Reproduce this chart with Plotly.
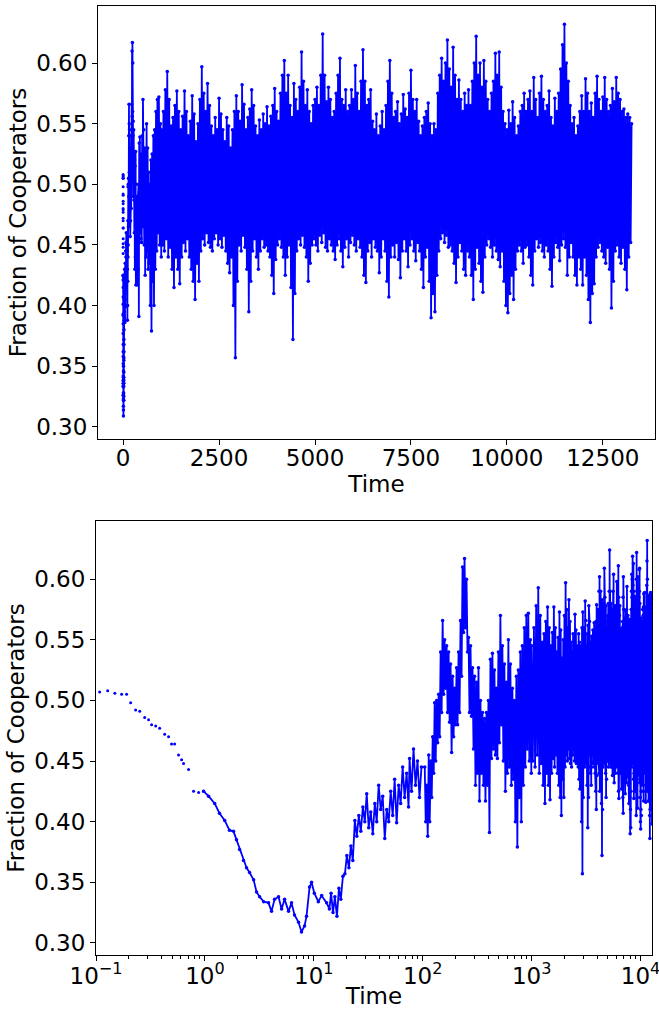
import numpy as np
import plotly.graph_objects as go

# ---------------- data ----------------
# early part: sparse dots (log-time view)
early_t = [0.108, 0.128, 0.149, 0.172, 0.191, 0.208, 0.231, 0.252, 0.280, 0.304,
           0.324, 0.353, 0.384, 0.427, 0.464, 0.494, 0.527, 0.573, 0.611, 0.637,
           0.708, 0.787, 0.875, 0.973, 1.08, 1.23, 1.36, 1.52, 1.68, 1.83,
           1.95, 2.08, 2.26, 2.41, 2.57, 2.80, 2.98, 3.18, 3.46]
early_y = [0.507, 0.508, 0.506, 0.505, 0.505, 0.498, 0.492, 0.491, 0.486, 0.484,
           0.480, 0.479, 0.477, 0.472, 0.470, 0.464, 0.464, 0.455, 0.451, 0.448,
           0.443, 0.425, 0.424, 0.425, 0.421, 0.415, 0.407, 0.401, 0.393, 0.392,
           0.385, 0.377, 0.368, 0.362, 0.358, 0.352, 0.342, 0.338, 0.334]

# trough between t ~ 4 and 14
trough_t = [3.84, 4.09, 4.36, 4.74, 5.06, 5.39, 5.86, 6.24, 6.65, 7.24,
            7.71, 8.22, 8.57, 9.14, 9.53, 10.1, 11.0, 11.8, 13.1, 13.9]
trough_y = [0.333, 0.326, 0.336, 0.338, 0.328, 0.336, 0.326, 0.333, 0.323, 0.317,
            0.309, 0.314, 0.322, 0.346, 0.350, 0.341, 0.334, 0.339, 0.333, 0.328]

# rise between t ~ 14 and 100 (alternating upper / lower edge of band)
rise_t = [14.4, 15.0, 15.6, 16.3, 17.0, 17.7, 18.5, 19.3, 20.1, 21.0,
          21.9, 22.8, 23.8, 24.8, 25.9, 27.0, 28.2, 29.4, 30.6, 31.9,
          33.3, 34.8, 36.3, 37.8, 39.4, 41.1, 42.9, 44.8, 46.7, 48.7,
          50.8, 53.0, 55.2, 57.6, 60.1, 62.7, 65.4, 68.2, 71.1, 74.1,
          75.7, 78.9, 82.3, 85.9, 89.5, 93.4, 97.3]
rise_y = [0.341, 0.325, 0.338, 0.322, 0.345, 0.336, 0.355, 0.357, 0.372, 0.362,
          0.380, 0.368, 0.401, 0.388, 0.405, 0.392, 0.412, 0.400, 0.423, 0.395,
          0.408, 0.390, 0.415, 0.400, 0.430, 0.410, 0.421, 0.386, 0.410, 0.400,
          0.425, 0.405, 0.435, 0.399, 0.430, 0.415, 0.445, 0.420, 0.440, 0.412,
          0.452, 0.425, 0.460, 0.430, 0.450, 0.420, 0.445]

# t ~ 100 .. 1000: upper and lower edges of the band
mid_t_hi = [104.3, 108.8, 113.5, 118.4, 123.4, 128.7, 134.3, 140.0, 146.0, 152.3,
            158.8, 165.7, 172.8, 180.2, 188.0, 196.0, 204.5, 213.3, 222.4, 232.0,
            242.0, 252.4, 263.2, 274.6, 286.4, 298.7, 311.6, 325.0, 338.9, 353.5,
            368.7, 384.6, 401.1, 418.4, 436.4, 455.2, 474.8, 495.2, 516.5, 538.8,
            562.0, 586.2, 611.4, 637.8, 665.2, 693.9, 723.8, 754.9, 787.4, 821.3,
            856.6, 893.5, 932.0, 972.1]
mid_hi = [0.445, 0.430, 0.455, 0.450, 0.470, 0.498, 0.500, 0.505, 0.540, 0.566,
          0.550, 0.545, 0.540, 0.530, 0.520, 0.510, 0.527, 0.540, 0.566, 0.610,
          0.617, 0.600, 0.552, 0.545, 0.527, 0.520, 0.515, 0.527, 0.500, 0.490,
          0.485, 0.490, 0.500, 0.534, 0.539, 0.525, 0.510, 0.540, 0.570, 0.545,
          0.530, 0.515, 0.550, 0.530, 0.510, 0.500, 0.520, 0.525, 0.540, 0.545,
          0.560, 0.570, 0.572, 0.550]
mid_t_lo = [106.5, 111.1, 115.9, 120.9, 126.1, 131.5, 137.1, 143.0, 149.1, 155.5,
            162.2, 169.2, 176.5, 184.1, 192.0, 200.2, 208.8, 217.8, 227.2, 236.9,
            247.1, 257.7, 268.9, 280.4, 292.5, 305.1, 318.2, 331.9, 346.1, 361.0,
            376.6, 392.8, 409.7, 427.3, 445.7, 464.9, 484.9, 505.7, 527.5, 550.2,
            573.9, 598.6, 624.4, 651.2, 679.3, 708.5, 739.0, 770.8, 804.0, 838.6,
            874.7, 912.4, 951.7, 992.7]
mid_lo = [0.400, 0.388, 0.400, 0.420, 0.440, 0.450, 0.465, 0.470, 0.490, 0.505,
          0.510, 0.490, 0.482, 0.457, 0.470, 0.480, 0.480, 0.490, 0.520, 0.556,
          0.560, 0.540, 0.490, 0.487, 0.460, 0.430, 0.440, 0.417, 0.440, 0.430,
          0.417, 0.430, 0.391, 0.452, 0.460, 0.455, 0.452, 0.465, 0.480, 0.450,
          0.425, 0.440, 0.445, 0.430, 0.435, 0.400, 0.379, 0.420, 0.400, 0.430,
          0.445, 0.460, 0.450, 0.440]

# t = 1000 .. 13250 every 50: upper edge; t = 1025 .. 13225 every 50: lower edge
late_t_hi = np.arange(1000, 13251, 50)
late_hi = [
    0.545, 0.560, 0.578, 0.593, 0.570, 0.548, 0.555, 0.565, 0.577, 0.560,
    0.545, 0.556, 0.577, 0.560, 0.540, 0.552, 0.573, 0.558, 0.535, 0.550,
    0.570, 0.597, 0.575, 0.560, 0.583, 0.565, 0.548, 0.540, 0.555, 0.545,
    0.571, 0.558, 0.545, 0.535, 0.555, 0.548, 0.530, 0.545, 0.560, 0.573,
    0.560, 0.552, 0.582, 0.566, 0.545, 0.555, 0.562, 0.578, 0.565, 0.548,
    0.540, 0.553, 0.545, 0.558, 0.550, 0.564, 0.548, 0.556, 0.565, 0.579,
    0.560, 0.552, 0.575, 0.590, 0.602, 0.575, 0.590, 0.565, 0.555, 0.583,
    0.570, 0.560, 0.580, 0.609, 0.585, 0.565, 0.578, 0.560, 0.550, 0.565,
    0.570, 0.580, 0.565, 0.590, 0.624, 0.590, 0.568, 0.580, 0.570, 0.555,
    0.560, 0.575, 0.590, 0.604, 0.570, 0.565, 0.578, 0.560, 0.565, 0.578,
    0.570, 0.598, 0.575, 0.560, 0.585, 0.611, 0.585, 0.565, 0.570, 0.578,
    0.552, 0.545, 0.558, 0.540, 0.548, 0.560, 0.545, 0.565, 0.585, 0.602,
    0.575, 0.555, 0.560, 0.568, 0.550, 0.558, 0.574, 0.562, 0.555, 0.575,
    0.594, 0.570, 0.560, 0.570, 0.552, 0.540, 0.548, 0.555, 0.560, 0.567,
    0.550, 0.540, 0.550, 0.545, 0.575, 0.590, 0.604, 0.585, 0.600, 0.619,
    0.595, 0.580, 0.613, 0.590, 0.570, 0.586, 0.570, 0.560, 0.575, 0.565,
    0.578, 0.565, 0.585, 0.600, 0.622, 0.590, 0.600, 0.580, 0.602, 0.585,
    0.570, 0.560, 0.575, 0.585, 0.608, 0.590, 0.609, 0.580, 0.560, 0.550,
    0.545, 0.561, 0.550, 0.568, 0.555, 0.540, 0.548, 0.560, 0.565, 0.575,
    0.560, 0.570, 0.577, 0.560, 0.588, 0.570, 0.555, 0.575, 0.589, 0.570,
    0.560, 0.565, 0.577, 0.555, 0.548, 0.571, 0.560, 0.575, 0.595, 0.615,
    0.632, 0.600, 0.585, 0.565, 0.550, 0.555, 0.540, 0.548, 0.560, 0.573,
    0.560, 0.587, 0.575, 0.560, 0.567, 0.555, 0.575, 0.589, 0.570, 0.560,
    0.572, 0.588, 0.570, 0.560, 0.565, 0.579, 0.568, 0.588, 0.575, 0.570,
    0.560, 0.562, 0.555, 0.558, 0.555, 0.550]
late_t_lo = np.arange(1025, 13226, 50)
late_lo = [
    0.450, 0.445, 0.455, 0.440, 0.448, 0.430, 0.415, 0.440, 0.430, 0.418,
    0.440, 0.452, 0.445, 0.455, 0.440, 0.430, 0.420, 0.405, 0.435, 0.420,
    0.445, 0.455, 0.450, 0.460, 0.452, 0.448, 0.445, 0.455, 0.460, 0.450,
    0.455, 0.448, 0.458, 0.445, 0.435, 0.427, 0.440, 0.400, 0.357, 0.420,
    0.450, 0.445, 0.458, 0.448, 0.430, 0.395, 0.420, 0.445, 0.455, 0.440,
    0.430, 0.445, 0.455, 0.448, 0.450, 0.445, 0.440, 0.425, 0.410, 0.438,
    0.450, 0.455, 0.448, 0.440, 0.425, 0.440, 0.450, 0.415, 0.372, 0.410,
    0.445, 0.455, 0.450, 0.458, 0.448, 0.440, 0.420, 0.435, 0.450, 0.455,
    0.450, 0.445, 0.458, 0.452, 0.460, 0.448, 0.445, 0.455, 0.450, 0.445,
    0.438, 0.450, 0.455, 0.445, 0.432, 0.448, 0.455, 0.440, 0.452, 0.458,
    0.450, 0.445, 0.455, 0.448, 0.440, 0.425, 0.419, 0.445, 0.452, 0.440,
    0.455, 0.448, 0.445, 0.427, 0.440, 0.455, 0.445, 0.420, 0.407, 0.440,
    0.450, 0.440, 0.452, 0.438, 0.423, 0.445, 0.455, 0.445, 0.432, 0.450,
    0.455, 0.445, 0.437, 0.452, 0.445, 0.430, 0.415, 0.440, 0.448, 0.420,
    0.390, 0.410, 0.395, 0.425, 0.445, 0.455, 0.460, 0.452, 0.458, 0.448,
    0.450, 0.445, 0.435, 0.419, 0.440, 0.452, 0.445, 0.430, 0.425, 0.445,
    0.440, 0.425, 0.405, 0.430, 0.448, 0.435, 0.420, 0.411, 0.440, 0.450,
    0.455, 0.448, 0.440, 0.450, 0.445, 0.438, 0.432, 0.445, 0.420, 0.400,
    0.394, 0.410, 0.425, 0.405, 0.430, 0.445, 0.450, 0.445, 0.435, 0.448,
    0.450, 0.440, 0.425, 0.417, 0.445, 0.455, 0.448, 0.452, 0.445, 0.440,
    0.450, 0.445, 0.430, 0.416, 0.440, 0.452, 0.448, 0.437, 0.450, 0.455,
    0.448, 0.425, 0.440, 0.452, 0.440, 0.425, 0.417, 0.440, 0.430, 0.417,
    0.440, 0.425, 0.405, 0.386, 0.410, 0.418, 0.440, 0.448, 0.452, 0.445,
    0.440, 0.435, 0.448, 0.430, 0.398, 0.420, 0.445, 0.450, 0.440, 0.435,
    0.448, 0.430, 0.413, 0.440, 0.452]

x_ticks_lin = [0, 2500, 5000, 7500, 10000, 12500]
y_ticks = [0.30, 0.35, 0.40, 0.45, 0.50, 0.55, 0.60]
y_tick_labels = ["0.30", "0.35", "0.40", "0.45", "0.50", "0.55", "0.60"]
x_ticks_log = [0.1, 1, 10, 100, 1000, 10000]
x_tick_labels_log = ["10<sup>\u22121</sup>", "10<sup>0</sup>", "10<sup>1</sup>",
                     "10<sup>2</sup>", "10<sup>3</sup>", "10<sup>4</sup>"]

# ---------------- assemble the series ----------------
mid_t, mid_y = [], []
for a, b, c, d in zip(mid_t_hi, mid_hi, mid_t_lo, mid_lo):
    mid_t += [a, c]
    mid_y += [b, d]
late_t, late_y = [], []
for i in range(len(late_t_hi)):
    late_t.append(float(late_t_hi[i])); late_y.append(late_hi[i])
    if i < len(late_t_lo):
        late_t.append(float(late_t_lo[i])); late_y.append(late_lo[i])

dot_t = [t for t in early_t if t < 1.0]
dot_y = [y for t, y in zip(early_t, early_y) if t < 1.0]
line_t = [t for t in early_t if t >= 0.97] + trough_t + rise_t + mid_t + late_t
line_y = [y for t, y in zip(early_t, early_y) if t >= 0.97] + trough_y + rise_y + mid_y + late_y

BLUE = "#0000ff"
fig = go.Figure()
for xa, ya in (("x", "y"), ("x2", "y2")):
    fig.add_trace(go.Scatter(x=dot_t, y=dot_y, mode="markers", xaxis=xa, yaxis=ya,
                             marker=dict(color=BLUE, size=3, line=dict(width=0)),
                             showlegend=False, hoverinfo="skip"))
    fig.add_trace(go.Scatter(x=line_t, y=line_y, mode="lines+markers", xaxis=xa, yaxis=ya,
                             line=dict(color=BLUE, width=1.8),
                             marker=dict(color=BLUE, size=3.5, line=dict(width=0)),
                             showlegend=False, hoverinfo="skip"))

W, H = 659, 1016
axis_common = dict(showline=True, linecolor="black", linewidth=1, mirror=True,
                   ticks="outside", ticklen=5, tickwidth=1, tickcolor="black",
                   showgrid=False, zeroline=False, automargin=False,
                   ticklabeloverflow="allow",
                   tickfont=dict(family="DejaVu Sans", size=23, color="black"))

fig.update_layout(
    width=W, height=H,
    margin=dict(l=0, r=0, t=0, b=0, autoexpand=False),
    paper_bgcolor="white", plot_bgcolor="white",
    font=dict(family="DejaVu Sans", size=23, color="black"),
    showlegend=False,
    xaxis=dict(domain=[98 / W, 655 / W], anchor="y", range=[-655, 13860],
               tickmode="array", tickvals=x_ticks_lin,
               ticktext=[str(v) for v in x_ticks_lin], ticklabelstandoff=-7,
               title=dict(text="Time", standoff=0, font=dict(size=23)), **axis_common),
    yaxis=dict(domain=[1 - 439 / H, 1 - 6 / H], anchor="x", range=[0.290, 0.647],
               tickmode="array", tickvals=y_ticks, ticktext=y_tick_labels,
               title=dict(text="Fraction of Cooperators", standoff=3, font=dict(size=23)),
               **axis_common),
    xaxis2=dict(domain=[96 / W, 652 / W], anchor="y2", type="log", range=[-1, 4.105],
                tickmode="array", tickvals=x_ticks_log, ticktext=x_tick_labels_log,
                ticklabelstandoff=-5,
                minor=dict(ticks="outside", ticklen=3, tickwidth=1, tickcolor="black",
                           tickmode="array",
                           tickvals=[m * 10.0 ** e for e in range(-1, 5) for m in range(2, 10)],
                           showgrid=False),
                title=dict(text="Time", standoff=0, font=dict(size=23)), **axis_common),
    yaxis2=dict(domain=[1 - 955 / H, 1 - 521 / H], anchor="x2", range=[0.290, 0.648],
                tickmode="array", tickvals=y_ticks, ticktext=y_tick_labels,
                title=dict(text="Fraction of Cooperators", standoff=3, font=dict(size=23)),
                **axis_common),
)

fig.write_html("out.html")
